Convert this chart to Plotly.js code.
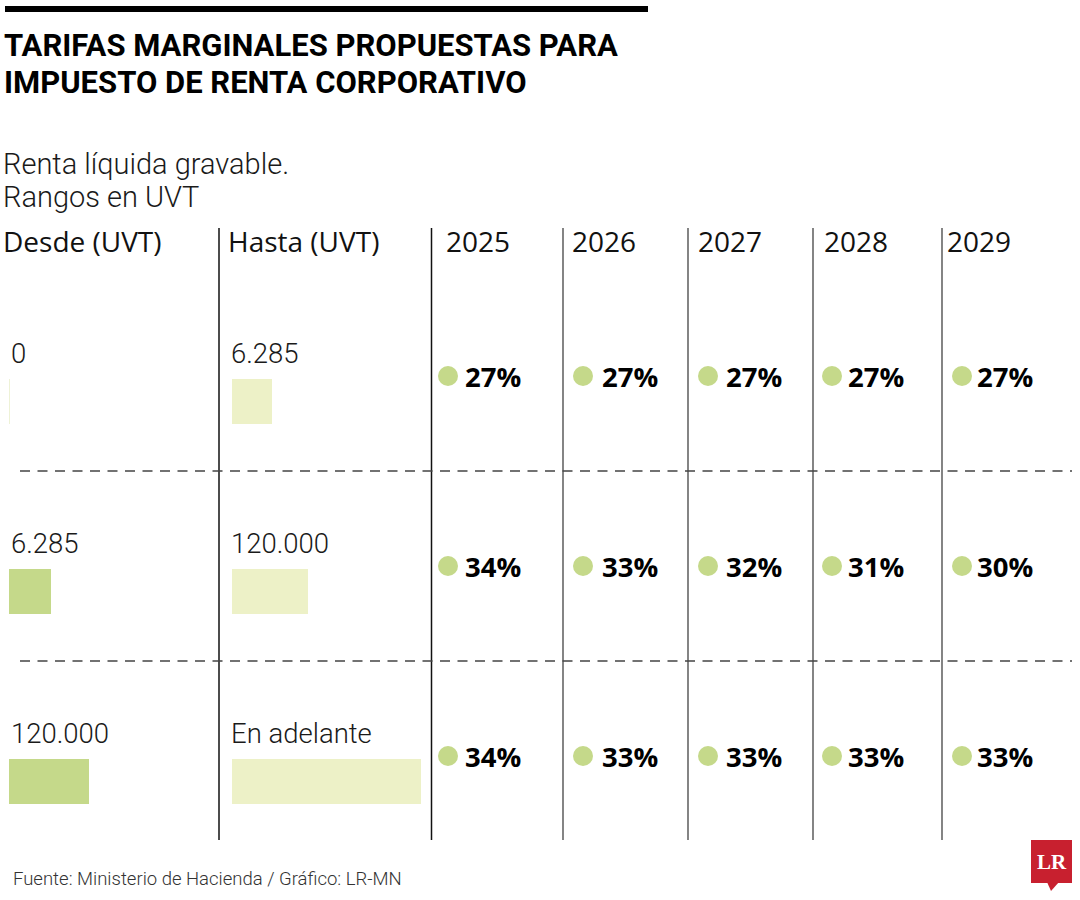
<!DOCTYPE html>
<html><head><meta charset="utf-8">
<script src="https://cdn.plot.ly/plotly-3.0.1.min.js"></script>
<style>html,body{margin:0;padding:0;background:#fff}#chart{width:1080px;height:900px}</style>
</head><body><div id="chart"></div>
<script>
// ---------- DATA ----------
const titleLines = ['TARIFAS MARGINALES PROPUESTAS PARA', 'IMPUESTO DE RENTA CORPORATIVO'];
const subtitleLines = ['Renta líquida gravable.', 'Rangos en UVT'];
const headers = ['Desde (UVT)', 'Hasta (UVT)'];
const years = ['2025', '2026', '2027', '2028', '2029'];
const desdeLabels = ['0', '6.285', '120.000'];
const hastaLabels = ['6.285', '120.000', 'En adelante'];
const desdeBar = [1, 42, 80];
const hastaBar = [40, 76, 189];
const rate2025 = [27, 34, 34];
const rate2026 = [27, 33, 33];
const rate2027 = [27, 32, 33];
const rate2028 = [27, 31, 33];
const rate2029 = [27, 30, 33];
const rates = [rate2025, rate2026, rate2027, rate2028, rate2029];
const sourceText = 'Fuente: Ministerio de Hacienda / Gráfico: LR-MN';
const logoText = 'LR';

// ---------- LAYOUT CONSTANTS (pixels) ----------
const W = 1080, H = 900;
const ROW0 = 376, STEP = 190;           // row centre of first row & spacing
const rows = desdeLabels.map((_, i) => i);
const colLines = [219, 431.5, 563, 688, 813, 942];
const yearX = [448, 574, 700, 826, 949];
const dotX = [448, 583, 708, 832, 962];
const pctX = [464, 601, 725, 847, 976];
const desdeX = 9, hastaX = 232;
const BAR_OFF = 25.5 / STEP, BAR_W = 45 / STEP, LABEL_OFF = -22.5 / STEP;
const DARK = '#c5d98a', LIGHT = '#edf1c7';
const py = px => 1 - px / H;           // pixel -> paper

const light = {family: 'Roboto, "Open Sans", sans-serif', size: 27.5, color: '#1a1a1a', weight: 300};
const subFont = {family: 'Roboto, "Open Sans", sans-serif', size: 29, color: '#1a1a1a', weight: 300};
const regular = {family: '"Open Sans", Roboto, sans-serif', size: 28, color: '#111'};

const traces = [];
traces.push({
  type: 'bar', orientation: 'h', x: desdeBar, base: desdeX,
  y: rows.map(r => r + BAR_OFF), width: BAR_W,
  marker: {color: desdeBar.map((v, i) => i === 0 ? '#eef2d6' : DARK), line: {width: 0}},
  hoverinfo: 'skip'
});
traces.push({
  type: 'bar', orientation: 'h', x: hastaBar, base: hastaX,
  y: rows.map(r => r + BAR_OFF), width: BAR_W,
  marker: {color: LIGHT, line: {width: 0}}, hoverinfo: 'skip'
});
years.forEach((yr, j) => {
  traces.push({
    type: 'scatter', mode: 'markers', x: rows.map(() => dotX[j]), y: rows,
    marker: {size: 20, color: DARK, line: {width: 0}}, hoverinfo: 'skip', name: yr
  });
});

const annotations = [];
const ann = (o) => annotations.push(Object.assign({showarrow: false, xanchor: 'left', yanchor: 'middle', borderpad: 0}, o));

titleLines.forEach((t, i) => ann({
  text: t, xref: 'paper', yref: 'paper', x: 3 / W, y: py(45.5 + i * 36.5),
  font: {family: 'Roboto, "Open Sans", sans-serif', size: 31, weight: 700, color: '#000'}
}));
subtitleLines.forEach((t, i) => ann({
  text: t, xref: 'paper', yref: 'paper', x: 2 / W, y: py(164 + i * 33), font: subFont
}));
headers.forEach((t, i) => ann({
  text: t, xref: 'paper', yref: 'paper', x: (i === 0 ? 2 : 227) / W, y: py(241), font: regular
}));
years.forEach((t, j) => ann({
  text: t, xref: 'paper', yref: 'paper', x: (yearX[j] - 3) / W, y: py(241), font: regular
}));
rows.forEach(r => {
  ann({text: desdeLabels[r], x: desdeX + 1, y: r + LABEL_OFF, font: light});
  ann({text: hastaLabels[r], x: hastaX - 2, y: r + LABEL_OFF, font: light});
  rates.forEach((col, j) => ann({
    text: col[r] + '%', x: pctX[j], y: r,
    font: {family: '"Open Sans", Roboto, sans-serif', size: 27.5, weight: 700, color: '#000'}
  }));
});
ann({text: sourceText, xref: 'paper', yref: 'paper', x: 12 / W, y: py(879),
  font: {family: 'Roboto, "Open Sans", sans-serif', size: 18.5, weight: 300, color: '#333'}});
ann({text: '<b>' + logoText + '</b>', xref: 'paper', yref: 'paper', x: 1051.5 / W, y: py(862), xanchor: 'center',
  font: {family: '"Liberation Serif", "DejaVu Serif", serif', size: 21, color: '#fff'}});

const shapes = [];
// top rule
shapes.push({type: 'rect', xref: 'x', yref: 'paper', x0: 5, x1: 648, y0: py(6), y1: py(12),
  fillcolor: '#000', line: {width: 0}});
// vertical column rules
colLines.forEach((x, i) => shapes.push({type: 'line', xref: 'x', yref: 'paper', x0: x, x1: x,
  y0: py(228), y1: py(840), line: {color: i < 2 ? '#111' : '#333', width: i < 2 ? 1.5 : 1.2}}));
// dashed row separators
[0.5, 1.5].forEach(y => shapes.push({type: 'line', xref: 'x', yref: 'y', x0: 20, x1: 1072, y0: y, y1: y,
  line: {color: '#444', width: 1.5, dash: '10px,7.5px'}}));
// logo
shapes.push({type: 'rect', xref: 'x', yref: 'paper', x0: 1031, x1: 1072, y0: py(840), y1: py(883),
  fillcolor: '#c8202f', line: {width: 0}});
shapes.push({type: 'path', xref: 'paper', yref: 'paper',
  path: `M ${1047 / W} ${py(882)} L ${1051 / W} ${py(891)} L ${1059 / W} ${py(882)} Z`,
  fillcolor: '#c8202f', line: {width: 0}});

const layout = {
  width: W, height: H, margin: {l: 0, r: 0, t: 0, b: 0},
  paper_bgcolor: '#fff', plot_bgcolor: '#fff', showlegend: false, barmode: 'overlay',
  xaxis: {range: [0, W], visible: false, fixedrange: true},
  yaxis: {range: [(H - ROW0) / STEP, -ROW0 / STEP], visible: false, fixedrange: true},
  annotations, shapes
};
Plotly.newPlot('chart', traces, layout, {displayModeBar: false, staticPlot: true});
</script>
</body></html>
